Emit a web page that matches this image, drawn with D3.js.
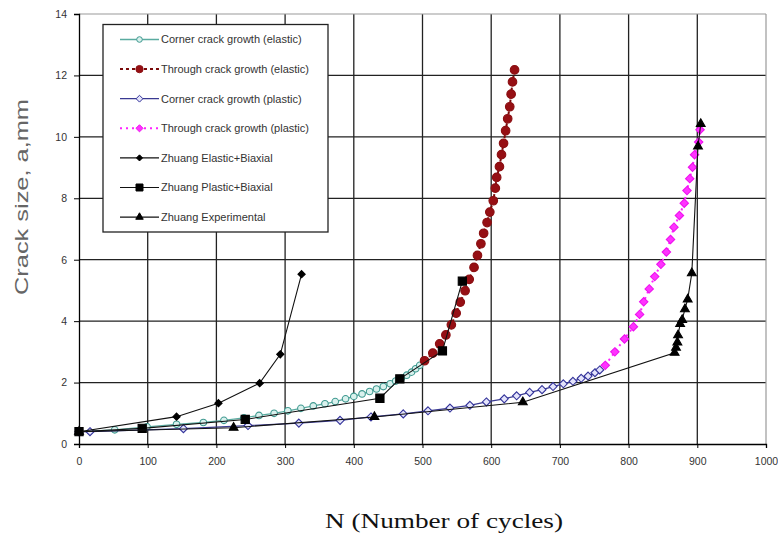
<!DOCTYPE html>
<html>
<head>
<meta charset="utf-8">
<script src="https://cdn.jsdelivr.net/npm/d3@7"></script>
<style>
  body { margin: 0; background: #fff; }
  svg { display: block; font-family: "Liberation Sans", Arial, sans-serif; }
</style>
</head>
<body>
<svg id="chart" width="778" height="540"></svg>
<script>
// values: [N cycles, crack size a (mm)]
const cornerElastic = [
  [0, 0.40], [52, 0.46], [99, 0.56], [142, 0.64], [181, 0.70], [211, 0.77],
  [240, 0.85], [262, 0.93], [284, 1.00], [304, 1.08], [323, 1.16], [341, 1.24],
  [358, 1.31], [373, 1.38], [388, 1.47], [400, 1.55], [412, 1.63], [423, 1.71],
  [433, 1.79], [443, 1.87], [453, 1.96], [461, 2.05], [469, 2.14], [477, 2.24],
  [484, 2.34], [490, 2.45], [496, 2.56]
];
const throughElastic = [
  [503, 2.71], [515, 2.96], [525, 3.26], [534, 3.55], [542, 3.88], [549, 4.26],
  [555, 4.62], [562, 4.99], [568, 5.36], [575, 5.75], [580, 6.14], [585, 6.52],
  [589, 6.86], [594, 7.21], [598, 7.55], [603, 7.92], [606, 8.33], [608, 8.68],
  [612, 9.03], [615, 9.42], [618, 9.79], [621, 10.20], [624, 10.59], [627, 10.98],
  [629, 11.39], [631, 11.79], [634, 12.18]
];
const cornerPlastic = [
  [0, 0.40], [16, 0.40], [152, 0.50], [246, 0.60], [320, 0.68], [380, 0.77],
  [425, 0.88], [472, 0.98], [508, 1.08], [540, 1.17], [569, 1.26], [593, 1.37],
  [619, 1.47], [637, 1.57], [656, 1.68], [674, 1.77], [690, 1.87], [705, 1.96],
  [719, 2.04], [731, 2.14], [741, 2.21], [751, 2.32], [758, 2.41]
];
const throughPlastic = [
  [766, 2.56], [780, 3.00], [794, 3.42], [807, 3.82], [816, 4.22], [822, 4.63],
  [830, 5.05], [838, 5.45], [847, 5.85], [855, 6.25], [861, 6.66], [866, 7.06],
  [874, 7.44], [881, 7.84], [885, 8.25], [889, 8.64], [893, 9.01], [896, 9.42],
  [902, 9.83], [904, 10.23]
];
const zhuangElastic = [[0, 0.40], [142, 0.89], [203, 1.33], [263, 1.98], [293, 2.92], [324, 5.53]];
const zhuangPlastic = [[0, 0.40], [92, 0.51], [242, 0.80], [438, 1.49], [467, 2.12], [529, 3.03], [558, 5.30]];
const zhuangExperimental = [
  [0, 0.40], [225, 0.53], [430, 0.88], [646, 1.36], [867, 2.97], [869, 3.14],
  [871, 3.31], [872, 3.54], [875, 3.91], [878, 4.04], [882, 4.39], [886, 4.71],
  [892, 5.56], [901, 9.69], [905, 10.42]
];

const xTicks = [0, 100, 200, 300, 400, 500, 600, 700, 800, 900, 1000];
const yTicks = [0, 2, 4, 6, 8, 10, 12, 14];

const legendLabels = [
  'Corner crack growth (elastic)',
  'Through crack growth (elastic)',
  'Corner crack growth (plastic)',
  'Through crack growth (plastic)',
  'Zhuang Elastic+Biaxial',
  'Zhuang Plastic+Biaxial',
  'Zhuang Experimental'
];

const svg = d3.select('#chart');

const x = d3.scaleLinear().domain([0, 1000]).range([79, 766]);
const y = d3.scaleLinear().domain([0, 14]).range([444, 14]);

// grid
const grid = svg.append('g');
grid.selectAll('line.v')
  .data(xTicks.slice(1, -1))
  .enter().append('line')
    .attr('x1', d => x(d)).attr('x2', d => x(d))
    .attr('y1', y(14)).attr('y2', y(0))
    .attr('stroke', '#222').attr('stroke-width', 1.3);
grid.selectAll('line.h')
  .data(yTicks.slice(1, -1))
  .enter().append('line')
    .attr('x1', x(0)).attr('x2', x(1000))
    .attr('y1', d => y(d)).attr('y2', d => y(d))
    .attr('stroke', '#222').attr('stroke-width', 1.3);
// light frame top / right
grid.append('line')
  .attr('x1', x(0)).attr('x2', x(1000)).attr('y1', y(14)).attr('y2', y(14))
  .attr('stroke', '#999').attr('stroke-width', 1.2);
grid.append('line')
  .attr('x1', x(1000)).attr('x2', x(1000)).attr('y1', y(14)).attr('y2', y(0))
  .attr('stroke', '#999').attr('stroke-width', 1.2);

// axes
const xAxis = svg.append('g')
  .attr('transform', `translate(0,${y(0)})`)
  .call(d3.axisBottom(x).tickValues(xTicks).tickSize(4).tickPadding(10).tickFormat(d3.format('d')));
const yAxis = svg.append('g')
  .attr('transform', `translate(${x(0)},0)`)
  .call(d3.axisLeft(y).tickValues(yTicks).tickSize(5).tickPadding(7).tickFormat(d3.format('d')));
[xAxis, yAxis].forEach(ax => {
  ax.select('.domain').attr('stroke', '#000').attr('stroke-width', 1.3);
  ax.selectAll('.tick line').attr('stroke', '#000');
  ax.selectAll('.tick text')
    .attr('fill', '#333')
    .style('font-size', '10.5px')
    .style('font-family', '"Liberation Sans", Arial, sans-serif');
});

// axis titles
svg.append('text')
  .attr('transform', 'translate(28,197) rotate(-90)')
  .attr('text-anchor', 'middle')
  .attr('fill', '#666')
  .attr('textLength', 196)
  .attr('lengthAdjust', 'spacingAndGlyphs')
  .style('font-size', '19px')
  .text('Crack size, a,mm');

svg.append('text')
  .attr('x', 444).attr('y', 528)
  .attr('text-anchor', 'middle')
  .attr('fill', '#111')
  .attr('textLength', 238)
  .attr('lengthAdjust', 'spacingAndGlyphs')
  .style('font-family', '"Liberation Serif", "Times New Roman", serif')
  .style('font-size', '21px')
  .text('N (Number of cycles)');

// series styles
const series = [
  { data: cornerElastic, stroke: '#5aaba0', width: 1.3, dash: null,
    shape: 'circle', size: 3.3, mStroke: '#3f9990', mFill: '#d9f1ed' },
  { data: throughElastic, stroke: '#7a0a0a', width: 2, dash: '3,3',
    shape: 'circle', size: 4.3, mStroke: '#8b0f12', mFill: '#960f14' },
  { data: cornerPlastic, stroke: '#3a3a92', width: 1.3, dash: null,
    shape: 'diamond', size: 4, mStroke: '#33339a', mFill: '#e4e4fb' },
  { data: throughPlastic, stroke: '#ff22ff', width: 2, dash: '2,4',
    shape: 'diamond', size: 4.2, mStroke: '#ee11ee', mFill: '#ff33ff' },
  { data: zhuangElastic, stroke: '#111', width: 1.1, dash: null,
    shape: 'diamond', size: 3.6, mStroke: '#000', mFill: '#000' },
  { data: zhuangPlastic, stroke: '#111', width: 1.1, dash: null,
    shape: 'square', size: 4.1, mStroke: '#000', mFill: '#000' },
  { data: zhuangExperimental, stroke: '#111', width: 1.1, dash: null,
    shape: 'triangle', size: 4.2, mStroke: '#000', mFill: '#000' }
];

function markerPath(shape, r) {
  if (shape === 'circle') return d3.symbol(d3.symbolCircle, Math.PI * r * r)();
  if (shape === 'square') return d3.symbol(d3.symbolSquare, 4 * r * r)();
  if (shape === 'triangle') return d3.symbol(d3.symbolTriangle, 1.9 * r * r)();
  // diamond: square rotated 45deg
  return `M0,${-r}L${r},0L0,${r}L${-r},0Z`;
}

const line = d3.line().x(d => x(d[0])).y(d => y(d[1]));

const plot = svg.append('g');
series.forEach(s => {
  const g = plot.append('g');
  g.append('path')
    .datum(s.data)
    .attr('d', line)
    .attr('fill', 'none')
    .attr('stroke', s.stroke)
    .attr('stroke-width', s.width)
    .attr('stroke-dasharray', s.dash);
  g.selectAll('path.m')
    .data(s.data)
    .enter().append('path')
      .attr('class', 'm')
      .attr('transform', d => `translate(${x(d[0])},${y(d[1])})`)
      .attr('d', markerPath(s.shape, s.size))
      .attr('fill', s.mFill)
      .attr('stroke', s.mStroke)
      .attr('stroke-width', 1.1);
});

// legend
const legend = svg.append('g');
legend.append('rect')
  .attr('x', 103).attr('y', 24.5)
  .attr('width', 225).attr('height', 207.5)
  .attr('fill', '#fff')
  .attr('stroke', '#222')
  .attr('stroke-width', 1.3);

const rows = legend.selectAll('g.row')
  .data(series)
  .enter().append('g')
    .attr('transform', (d, i) => `translate(0,${39.5 + i * 29.6})`);
rows.append('line')
  .attr('x1', 120).attr('x2', 159)
  .attr('stroke', d => d.stroke)
  .attr('stroke-width', d => d.width)
  .attr('stroke-dasharray', d => d.dash);
rows.append('path')
  .attr('transform', 'translate(139.5,0)')
  .attr('d', d => markerPath(d.shape, d.size * 0.85))
  .attr('fill', d => d.mFill)
  .attr('stroke', d => d.mStroke)
  .attr('stroke-width', 1);
rows.append('text')
  .attr('x', 161).attr('dy', '0.36em')
  .attr('fill', '#333')
  .style('font-size', '11px')
  .text((d, i) => legendLabels[i]);
</script>
</body>
</html>
